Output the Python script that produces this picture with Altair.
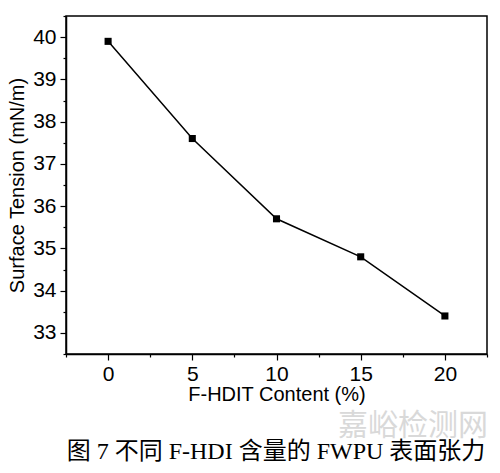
import altair as alt
import pandas as pd

content = [0, 5, 10, 15, 20]
tension = [39.9, 37.6, 35.7, 34.8, 33.4]
x_ticks = [-2.5, 0, 2.5, 5, 7.5, 10, 12.5, 15, 17.5, 20, 22.5]
y_ticks = [32.5, 33, 33.5, 34, 34.5, 35, 35.5, 36, 36.5, 37, 37.5, 38, 38.5, 39, 39.5, 40, 40.5]
caption = "图 7 不同 F-HDI 含量的 FWPU 表面张力"
watermark = "嘉峪检测网"

df = pd.DataFrame({"content": content, "tension": tension})

x_axis = alt.Axis(
    values=x_ticks,
    labelExpr="datum.value % 5 === 0 ? format(datum.value, 'd') : ''",
    tickSize={"condition": {"test": "datum.value % 5 === 0", "value": 6}, "value": 3},
    title="F-HDIT Content (%)",
    labelFont="Liberation Sans", labelFontSize=21, labelColor="black", labelPadding=3,
    titleFont="Liberation Sans", titleFontSize=20, titleFontWeight="normal", titleColor="black",
    titlePadding=0, domainColor="black", domainWidth=1.5, tickColor="black", tickWidth=1.2,
    grid=False, labelFlush=False,
)
y_axis = alt.Axis(
    values=y_ticks,
    labelExpr="datum.value % 1 === 0 ? format(datum.value, 'd') : ''",
    tickSize={"condition": {"test": "datum.value % 1 === 0", "value": 6}, "value": 3},
    title="Surface Tension (mN/m)",
    labelFont="Liberation Sans", labelFontSize=21, labelColor="black", labelPadding=4,
    titleFont="Liberation Sans", titleFontSize=20, titleFontWeight="normal", titleColor="black",
    titlePadding=5, domainColor="black", domainWidth=1.5, tickColor="black", tickWidth=1.2,
    grid=False, labelFlush=False,
)

base = alt.Chart(df).encode(
    x=alt.X("content:Q", scale=alt.Scale(domain=[-2.5, 22.5], nice=False, zero=False), axis=x_axis),
    y=alt.Y("tension:Q", scale=alt.Scale(domain=[32.5, 40.5], nice=False, zero=False), axis=y_axis),
)
line = base.mark_line(color="black", strokeWidth=1.5)
pts = base.mark_point(shape="square", filled=True, color="black", size=50, opacity=1)

cap = alt.Chart(pd.DataFrame({"t": [caption]})).mark_text(
    font="Liberation Serif, Noto Sans CJK SC", fontSize=24, color="black", align="center", baseline="middle"
).encode(text="t:N", x=alt.value(210), y=alt.value(436))

wm = alt.Chart(pd.DataFrame({"t": [watermark]})).mark_text(
    font="Noto Sans CJK SC", fontSize=30, color="#d9d9d9", align="right", baseline="middle"
).encode(text="t:N", x=alt.value(422), y=alt.value(410))

chart = alt.layer(line, pts, wm, cap).properties(
    width=421, height=338,
    autosize=alt.AutoSizeParams(type="none"),
    padding={"left": 58, "top": 8, "right": 5, "bottom": 111},
    background="white",
).configure_view(stroke="black", strokeWidth=1.5)

chart.save("out.html", embed_options={"renderer": "svg", "actions": False})
